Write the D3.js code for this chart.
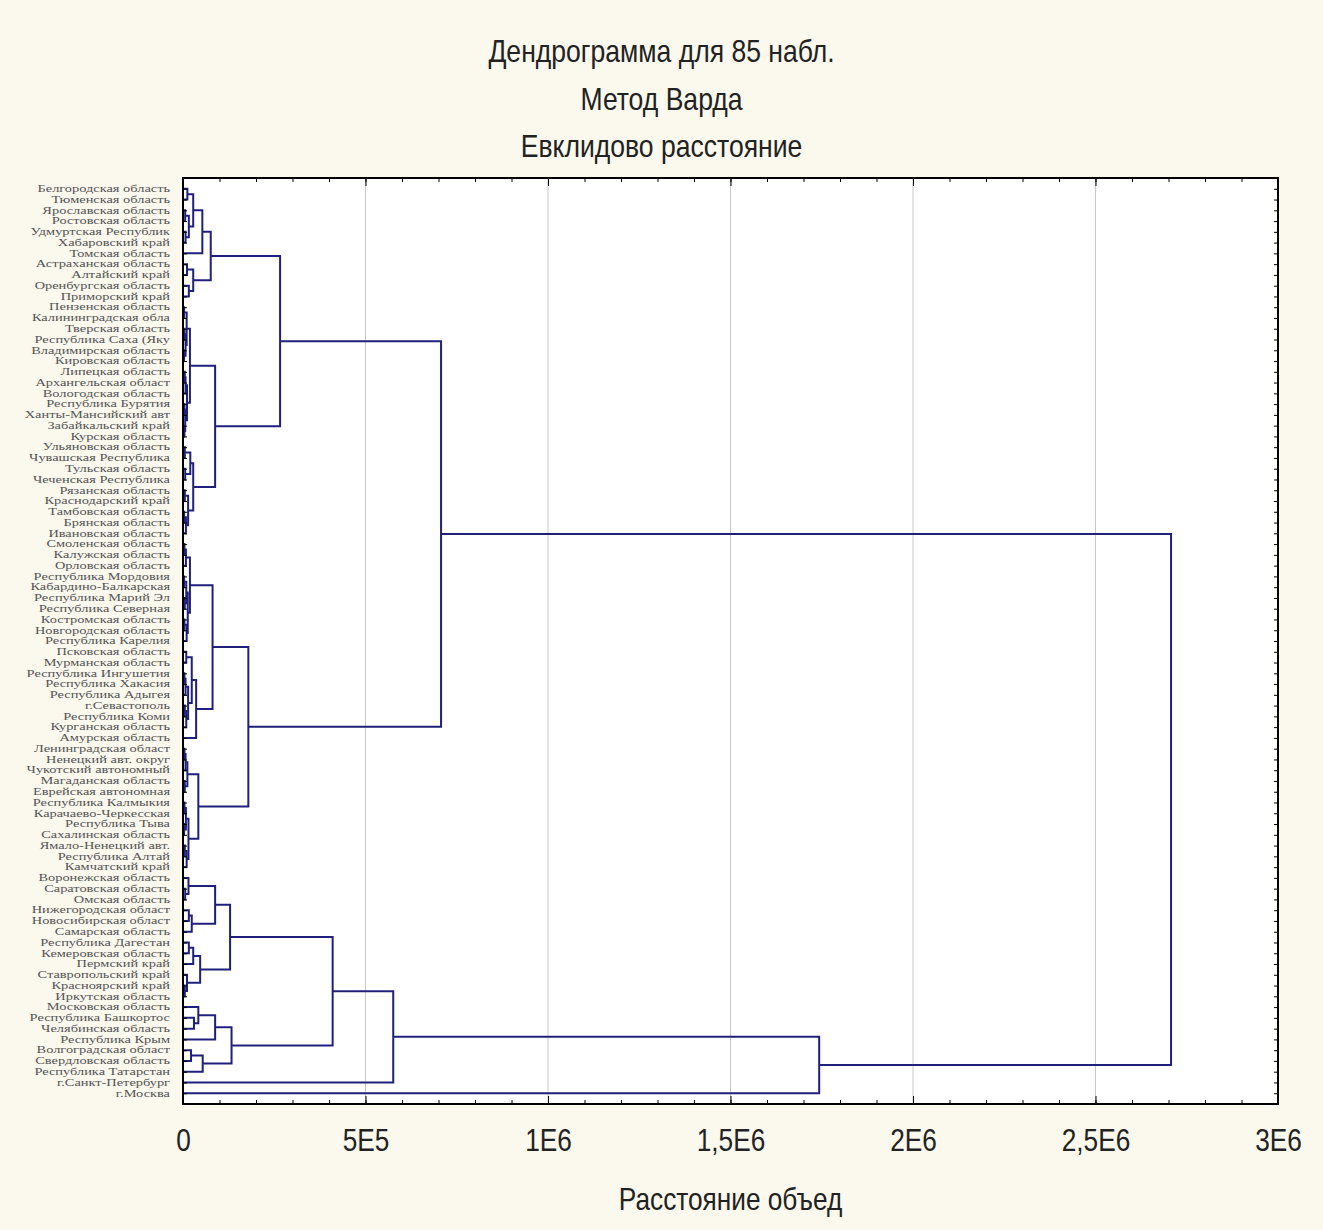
<!DOCTYPE html>
<html>
<head>
<meta charset="utf-8">
<script src="https://cdn.jsdelivr.net/npm/d3@7"></script>
<style>
body { margin: 0; background: #fbf8ed; }
</style>
</head>
<body>
<div id="chart"></div>
<script>
var W = 1323, H = 1230;
var margin = {top: 178, right: 45, bottom: 126, left: 183},
width = W - margin.left - margin.right,
height = H - margin.top - margin.bottom;

let titleLines = ["Дендрограмма для 85 набл.", "Метод Варда", "Евклидово расстояние"]
let xTitle = "Расстояние объед"
let xTicks = [0, 5e5, 1e6, 1.5e6, 2e6, 2.5e6, 3e6]
let xTickLabels = ["0", "5E5", "1E6", "1,5E6", "2E6", "2,5E6", "3E6"]

// leaves, top to bottom (names cut at 20 chars as in the original)
let labels = [
  "Белгородская область", "Тюменская область", "Ярославская область", "Ростовская область",
  "Удмуртская Республик", "Хабаровский край", "Томская область", "Астраханская область",
  "Алтайский край", "Оренбургская область", "Приморский край", "Пензенская область",
  "Калининградская обла", "Тверская область", "Республика Саха (Яку", "Владимирская область",
  "Кировская область", "Липецкая область", "Архангельская област", "Вологодская область",
  "Республика Бурятия", "Ханты-Мансийский авт", "Забайкальский край", "Курская область",
  "Ульяновская область", "Чувашская Республика", "Тульская область", "Чеченская Республика",
  "Рязанская область", "Краснодарский край", "Тамбовская область", "Брянская область",
  "Ивановская область", "Смоленская область", "Калужская область", "Орловская область",
  "Республика Мордовия", "Кабардино-Балкарская", "Республика Марий Эл", "Республика Северная",
  "Костромская область", "Новгородская область", "Республика Карелия", "Псковская область",
  "Мурманская область", "Республика Ингушетия", "Республика Хакасия", "Республика Адыгея",
  "г.Севастополь", "Республика Коми", "Курганская область", "Амурская область",
  "Ленинградская област", "Ненецкий авт. округ", "Чукотский автономный", "Магаданская область",
  "Еврейская автономная", "Республика Калмыкия", "Карачаево-Черкесская", "Республика Тыва",
  "Сахалинская область", "Ямало-Ненецкий авт.", "Республика Алтай", "Камчатский край",
  "Воронежская область", "Саратовская область", "Омская область", "Нижегородская област",
  "Новосибирская област", "Самарская область", "Республика Дагестан", "Кемеровская область",
  "Пермский край", "Ставропольский край", "Красноярский край", "Иркутская область",
  "Московская область", "Республика Башкортос", "Челябинская область", "Республика Крым",
  "Волгоградская област", "Свердловская область", "Республика Татарстан", "г.Санкт-Петербург",
  "г.Москва"
]

// merges: [left, right, linkage distance]; a bare number is a leaf (1-based row of labels)
let groupA1a = [[[[1, 2, 12e3], [[3, 4, 6e3], [5, 6, 7e3], 16e3], 28e3], 7, 53e3],
  [[8, 9, 11e3], [10, 11, 16e3], 28e3], 76e3]
let groupA1b = [
  [[[12, 13, 3e3], [[14, 15, 4e3], [16, 17, 3e3], 7e3], 10e3],
   [[[18, 19, 5e3], 20, 7e3], [[21, 22, 4e3], [23, 24, 4e3], 6e3], 11e3], 19e3],
  [[[25, 26, 5e3], [27, 28, 6e3], 20e3], [[29, 30, 5e3], [[31, 32, 3e3], 33, 8e3], 14e3], 28e3],
  88e3]
let groupA2a = [
  [[[34, 35, 4e3], 36, 8e3], [[[37, 38, 3e3], [39, 40, 5e3], 9e3], [[41, 42, 4e3], 43, 10e3], 13e3], 19e3],
  [[[44, 45, 9e3], [[[46, 47, 4e3], 48, 7e3], [[49, 50, 5e3], 51, 9e3], 14e3], 24e3], 52, 36e3],
  81e3]
let groupA2b = [
  [[[53, 54, 4e3], 55, 7e3], [56, 57, 5e3], 12e3],
  [[[58, 59, 4e3], [60, 61, 3e3], 8e3], [[62, 63, 5e3], 64, 10e3], 15e3],
  42e3]
let groupB1 = [
  [[[65, [66, 67, 6e3], 15e3], [[68, 69, 16e3], 70, 24e3], 88e3],
   [[[71, 72, 16e3], 73, 28e3], [74, [75, 76, 5e3], 11e3], 47e3], 129e3],
  [[[77, [78, 79, 30e3], 42e3], 80, 88e3], [[81, 82, 22e3], 83, 54e3], 133e3],
  410e3]

let tree = [
  [[groupA1a, groupA1b, 266e3], [groupA2a, groupA2b, 179e3], 707e3],
  [[groupB1, 84, 576e3], 85, 1743e3],
  2707e3]

var svg = d3.select("#chart")
  .append("svg")
    .attr("width", W)
    .attr("height", H)

svg.append("rect")
  .attr("width", W).attr("height", H)
  .attr("fill", "#fbf8ed")

var g = svg.append("g")
  .attr("transform", "translate(" + margin.left + "," + margin.top + ")")

g.append("rect")
  .attr("width", width).attr("height", height)
  .attr("fill", "#ffffff")

var x = d3.scaleLinear()
  .domain([0, 3e6])
  .range([0, width])

var y = d3.scaleLinear()
  .domain([0, labels.length + 1])
  .range([0, height])

// grid
g.selectAll("line.grid")
  .data(xTicks.slice(1, -1))
  .join("line")
    .attr("x1", d => x(d)).attr("x2", d => x(d))
    .attr("y1", 0).attr("y2", height)
    .attr("stroke", "#c9c9c9")
    .attr("stroke-width", 1)

// dendrogram
var root = d3.hierarchy(tree, d => Array.isArray(d) ? [d[0], d[1]] : null)
root.eachAfter(n => {
  if (!n.children) {
    n.h = 0
    n.py = y(n.data)
  } else {
    n.h = n.data[2]
    n.py = d3.mean(n.children, c => c.py)
  }
})

g.selectAll("path.link")
  .data(root.descendants().filter(n => n.children))
  .join("path")
    .attr("class", "link")
    .attr("fill", "none")
    .attr("stroke", "#20207c")
    .attr("stroke-width", 2)
    .attr("d", n => {
      var a = n.children[0], b = n.children[1]
      return "M" + x(a.h) + "," + a.py + "H" + x(n.h) + "V" + b.py + "H" + x(b.h)
    })

// axes
var leafTicks = d3.range(1, labels.length + 1)

var left = g.append("g")
  .call(d3.axisLeft(y).tickValues(leafTicks).tickFormat("")
    .tickSizeInner(-4).tickSizeOuter(0))
left.select(".domain").remove()
left.selectAll("line").attr("stroke", "#000")

// row labels: squeezed a bit vertically so the 85 rows fit their spacing
g.append("g")
  .selectAll("text")
  .data(leafTicks)
  .join("text")
    .attr("text-anchor", "end")
    .attr("transform", d => "translate(-13," + y(d) + ") scale(1.2,0.8)")
    .attr("dy", "0.34em")
    .attr("font-family", "'Liberation Serif', 'Times New Roman', serif")
    .attr("font-size", "12px")
    .attr("fill", "#555")
    .text(d => labels[d - 1])

var right = g.append("g")
  .attr("transform", "translate(" + width + ",0)")
  .call(d3.axisRight(y).tickValues(leafTicks).tickFormat("").tickSizeInner(-4).tickSizeOuter(0))
right.select(".domain").remove()

var minor = d3.range(0, 3e6 + 1, 1e5)

var bottomMinor = g.append("g")
  .attr("transform", "translate(0," + height + ")")
  .call(d3.axisBottom(x).tickValues(minor).tickFormat("").tickSizeInner(-4).tickSizeOuter(0))
bottomMinor.select(".domain").remove()

var bottom = g.append("g")
  .attr("transform", "translate(0," + height + ")")
  .call(d3.axisBottom(x).tickValues(xTicks).tickFormat((d, i) => xTickLabels[i])
    .tickSizeInner(-8).tickSizeOuter(0).tickPadding(24))
bottom.select(".domain").remove()
bottom.selectAll("text")
  .attr("font-family", "'Liberation Sans', Arial, sans-serif")
  .attr("font-size", "32px")
  .attr("fill", "#222")
  .attr("transform", "scale(0.82,1)")

var topMinor = g.append("g")
  .call(d3.axisTop(x).tickValues(minor).tickFormat("").tickSizeInner(-4).tickSizeOuter(0))
topMinor.select(".domain").remove()

var topMajor = g.append("g")
  .call(d3.axisTop(x).tickValues(xTicks).tickFormat("").tickSizeInner(-8).tickSizeOuter(0))
topMajor.select(".domain").remove()

// frame
g.append("rect")
  .attr("width", width).attr("height", height)
  .attr("fill", "none")
  .attr("stroke", "#000")
  .attr("stroke-width", 2)

// titles
svg.selectAll("text.title")
  .data(titleLines)
  .join("text")
    .attr("class", "title")
    .attr("text-anchor", "middle")
    .attr("transform", (d, i) => "translate(" + (W / 2) + "," + (62 + i * 47.5) + ") scale(0.83,1)")
    .attr("font-family", "'Liberation Sans', Arial, sans-serif")
    .attr("font-size", "32px")
    .attr("fill", "#222")
    .text(d => d)

svg.append("text")
  .attr("text-anchor", "middle")
  .attr("transform", "translate(" + (margin.left + width / 2) + ",1210) scale(0.82,1)")
  .attr("font-family", "'Liberation Sans', Arial, sans-serif")
  .attr("font-size", "32px")
  .attr("fill", "#222")
  .text(xTitle)
</script>
</body>
</html>
